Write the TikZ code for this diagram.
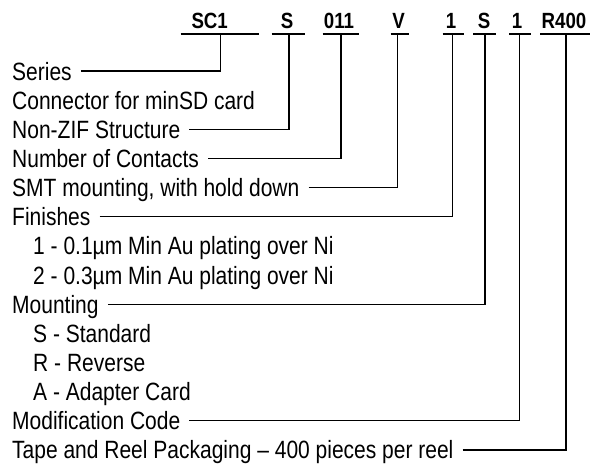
\documentclass[tikz,border=0pt]{standalone}
\usepackage{fontspec}
\setmainfont{Liberation Sans}[FakeStretch=0.84]
\newfontfamily\codefont{Liberation Sans}[FakeStretch=0.85]
\begin{document}
\begin{tikzpicture}[x=1pt,y=-1pt,
  lbl/.style={anchor=base west, inner sep=0pt, font=\fontsize{25}{27}\selectfont},
  code/.style={anchor=base, inner sep=0pt, font=\codefont\bfseries\fontsize{22}{24}\selectfont},
  uline/.style={line width=2pt},
  conn/.style={line width=1.25pt}]
\useasboundingbox (0,0) rectangle (594,464);
% codes
\node[code] (c1) at (209.7,28.3) {SC1};
\node[code] (c2) at (287,28.3) {S};
\node[code] (c3) at (339,28.3) {011};
\node[code] (c4) at (398.5,28.3) {V};
\node[code] (c5) at (451,28.3) {1};
\node[code] (c6) at (484,28.3) {S};
\node[code] (c7) at (517,28.3) {1};
\node[code] (c8) at (564,28.3) {R400};
% underline tap points
\coordinate (u1) at (220.7,34.3);
\coordinate (u2) at (289,34.3);
\coordinate (u3) at (341,34.3);
\coordinate (u4) at (397.7,34.3);
\coordinate (u5) at (452.3,34.3);
\coordinate (u6) at (485,34.3);
\coordinate (u7) at (519.3,34.3);
\coordinate (u8) at (566,34.3);
\draw[uline] (180.7,34.3) -- (258.5,34.3);
\draw[uline] (271.5,34.3) -- (305,34.3);
\draw[uline] (322.7,34.3) -- (359,34.3);
\draw[uline] (390.7,34.3) -- (409,34.3);
\draw[uline] (442.7,34.3) -- (464,34.3);
\draw[uline] (473.3,34.3) -- (496,34.3);
\draw[uline] (509,34.3) -- (530.7,34.3);
\draw[uline] (540,34.3) -- (590,34.3);
% labels
\node[lbl] (t0) at (12,80) {Series};
\node[lbl] (t1) at (12,109.15) {Connector for minSD card};
\node[lbl] (t2) at (12,138.3) {Non-ZIF Structure};
\node[lbl] (t3) at (12,167.45) {Number of Contacts};
\node[lbl] (t4) at (12,196.6) {SMT mounting, with hold down};
\node[lbl] (t5) at (12,225.75) {Finishes};
\node[lbl] (t6) at (33,254.9) {1 - 0.1µm Min Au plating over Ni};
\node[lbl] (t7) at (33,284.05) {2 - 0.3µm Min Au plating over Ni};
\node[lbl] (t8) at (12,313.2) {Mounting};
\node[lbl] (t9) at (33,342.35) {S - Standard};
\node[lbl] (t10) at (33,371.5) {R - Reverse};
\node[lbl] (t11) at (33,400.65) {A - Adapter Card};
\node[lbl] (t12) at (12,429.8) {Modification Code};
\node[lbl] (t13) at (12,458.95) {Tape and Reel Packaging -- 400 pieces per reel};
% connectors
\draw[conn] ([xshift=9pt,yshift=9pt]t0.base east) -| (u1);
\draw[conn] ([xshift=9pt,yshift=9pt]t2.base east) -| (u2);
\draw[conn] ([xshift=9pt,yshift=9pt]t3.base east) -| (u3);
\draw[conn] ([xshift=9pt,yshift=9pt]t4.base east) -| (u4);
\draw[conn] ([xshift=9pt,yshift=9pt]t5.base east) -| (u5);
\draw[conn] ([xshift=9pt,yshift=9pt]t8.base east) -| (u6);
\draw[conn] ([xshift=9pt,yshift=9pt]t12.base east) -| (u7);
\draw[conn] ([xshift=9pt,yshift=9pt]t13.base east) -| (u8);
\end{tikzpicture}
\end{document}
